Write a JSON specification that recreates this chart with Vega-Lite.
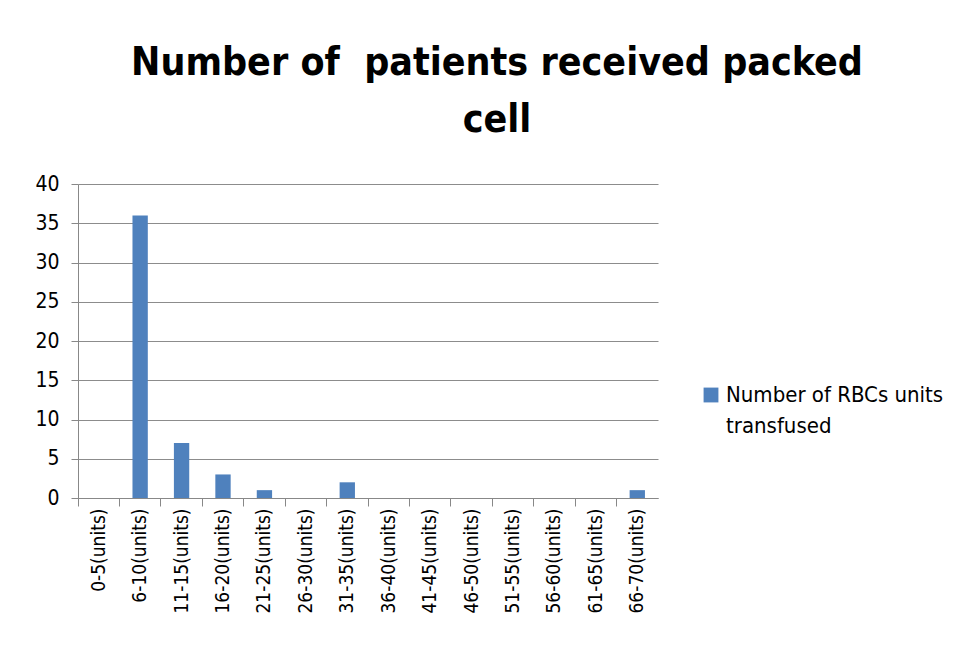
{
  "$schema": "https://vega.github.io/schema/vega-lite/v6.json",
  "width": 580,
  "height": 314,
  "autosize": {"type": "none"},
  "padding": {"left": 78, "top": 184, "right": 313, "bottom": 161},
  "background": "white",
  "config": {"view": {"stroke": null}},
  "title": {
    "text": ["Number of\u00a0 patients received packed", "cell"],
    "font": "DejaVu Sans Condensed",
    "fontSize": 39,
    "fontWeight": "bold",
    "color": "#000000",
    "anchor": "middle",
    "dx": 129,
    "lineHeight": 57,
    "offset": 33
  },
  "data": {
    "values": [
      {"range": "0-5(units)", "count": 0, "series": "Number of RBCs units transfused"},
      {"range": "6-10(units)", "count": 36, "series": "Number of RBCs units transfused"},
      {"range": "11-15(units)", "count": 7, "series": "Number of RBCs units transfused"},
      {"range": "16-20(units)", "count": 3, "series": "Number of RBCs units transfused"},
      {"range": "21-25(units)", "count": 1, "series": "Number of RBCs units transfused"},
      {"range": "26-30(units)", "count": 0, "series": "Number of RBCs units transfused"},
      {"range": "31-35(units)", "count": 2, "series": "Number of RBCs units transfused"},
      {"range": "36-40(units)", "count": 0, "series": "Number of RBCs units transfused"},
      {"range": "41-45(units)", "count": 0, "series": "Number of RBCs units transfused"},
      {"range": "46-50(units)", "count": 0, "series": "Number of RBCs units transfused"},
      {"range": "51-55(units)", "count": 0, "series": "Number of RBCs units transfused"},
      {"range": "56-60(units)", "count": 0, "series": "Number of RBCs units transfused"},
      {"range": "61-65(units)", "count": 0, "series": "Number of RBCs units transfused"},
      {"range": "66-70(units)", "count": 1, "series": "Number of RBCs units transfused"}
    ]
  },
  "mark": {"type": "bar", "color": "#4f81bd"},
  "encoding": {
    "x": {
      "field": "range", "type": "nominal", "sort": null,
      "scale": {"paddingInner": 0.63, "paddingOuter": 0.315},
      "axis": {
        "title": null, "labelAngle": -90, "labelAlign": "right", "labelBaseline": "middle",
        "labelFont": "DejaVu Sans Condensed", "labelFontSize": 19, "labelColor": "#000000",
        "labelPadding": 2, "bandPosition": -0.851, "labelOffset": 0,
        "ticks": true, "tickSize": 8, "tickColor": "#888888", "grid": false,
        "domainColor": "#888888", "domainWidth": 1
      }
    },
    "y": {
      "field": "count", "type": "quantitative",
      "scale": {"domain": [0, 40]},
      "axis": {
        "title": null, "values": [0, 5, 10, 15, 20, 25, 30, 35, 40], "labelOverlap": false,
        "labelFont": "DejaVu Sans Condensed", "labelFontSize": 21, "labelColor": "#000000",
        "labelPadding": 12, "tickSize": 7, "tickColor": "#888888",
        "domainColor": "#888888", "grid": true, "gridColor": "#8c8c8c", "gridWidth": 1
      }
    },
    "fill": {
      "field": "series", "type": "nominal",
      "scale": {"range": ["#4f81bd"]},
      "legend": {
        "title": null, "orient": "none", "legendX": 622, "legendY": 200,
        "symbolType": "square", "symbolSize": 220, "symbolStrokeWidth": 0,
        "labelFont": "DejaVu Sans Condensed", "labelFontSize": 22, "labelColor": "#000000",
        "labelLimit": 300, "labelBaseline": "middle", "labelOffset": 4,
        "labelExpr": "['Number of RBCs units', 'transfused']",
        "encode": {"labels": {"update": {"lineHeight": {"value": 31}}}}
      }
    }
  }
}
